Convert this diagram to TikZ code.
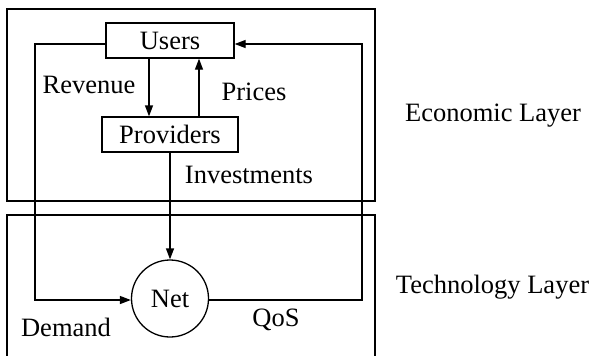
\documentclass[tikz,border=0pt]{standalone}
\usepackage{fontspec}
\setmainfont{Liberation Serif}
\usetikzlibrary{arrows.meta,calc}
\begin{document}
\begin{tikzpicture}[x=1bp,y=-1bp,
  every node/.style={font=\fontsize{26.5bp}{30bp}\selectfont},
  lbl/.style={inner sep=0pt},
  agent/.style={draw,line width=1.3bp,minimum height=35bp,inner sep=0pt},
  layer/.style={draw,line width=1.3bp},
  conn/.style={line width=1.3bp},
  seg/.style={conn,line cap=rect},
  arr/.style={conn,-{Triangle[length=11bp,width=8bp]}}]
\useasboundingbox (0,0) rectangle (596,355);
\fill[white] (0,0) rectangle (596,355);
% layers
\draw[layer] (7,9) rectangle (375,201);
\draw[layer] (7,360) |- (375,215) -- (375,360);
% nodes
\node[agent,minimum width=128bp] (users) at (170,40.5) {Users};
\node[agent,minimum width=136bp] (prov) at (170,134.5) {Providers};
\node[draw,circle,line width=1.3bp,minimum size=77bp,inner sep=0pt] (net) at (170,298.5) {Net};
\coordinate (rb) at (362,300);
\coordinate (rt) at (362,44);
\coordinate (lt) at (35,44);
\coordinate (lb) at (35,300);
% connectors
\draw[arr] ([xshift=-21bp]users.south) -- ([xshift=-21bp]prov.north);
\draw[arr] ([xshift=29bp]prov.north) -- ([xshift=29bp]users.south);
\draw[arr] (prov.south) -- (net.north);
\draw[conn] (users.west |- lt) -- (lt);
\draw[seg] (lt) -- (lb);
\draw[arr] (lb) -- (net.west |- lb);
\draw[conn] (net.east |- rb) -- (rb);
\draw[seg] (rb) -- (rt);
\draw[arr] (rt) -- (users.east |- rt);
% labels
\node[lbl] (rev) at (89,85) {Revenue};
\node[lbl] (pri) at (254,92) {Prices};
\node[lbl] (inv) at (249,175) {Investments};
\node[lbl] (dem) at (66,327) {Demand};
\node[lbl] (qos) at (276,320) {QoS};
\node[lbl] (eco) at (493,116) {Economic Layer};
\node[lbl] (tec) at (492.5,287) {Technology Layer};
\end{tikzpicture}
\end{document}
